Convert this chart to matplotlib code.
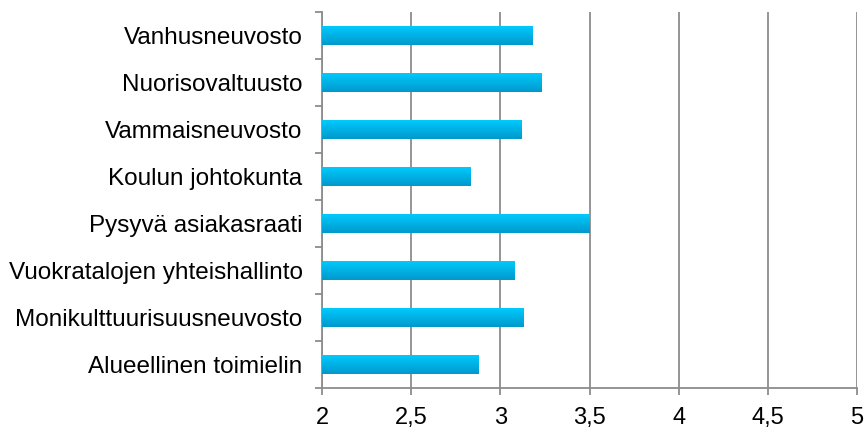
import numpy as np
import matplotlib
matplotlib.use("Agg")
import matplotlib.pyplot as plt
from matplotlib.colors import LinearSegmentedColormap

plt.rcParams['font.family'] = ['Liberation Sans', 'DejaVu Sans']

categories = [
    "Vanhusneuvosto",
    "Nuorisovaltuusto",
    "Vammaisneuvosto",
    "Koulun johtokunta",
    "Pysyvä asiakasraati",
    "Vuokratalojen yhteishallinto",
    "Monikulttuurisuusneuvosto",
    "Alueellinen toimielin",
]
values = [3.18, 3.23, 3.12, 2.83, 3.50, 3.08, 3.13, 2.88]
x_ticks = [2, 2.5, 3, 3.5, 4, 4.5, 5]
x_labels = ["2", "2,5", "3", "3,5", "4", "4,5", "5"]

fig = plt.figure(figsize=(8.65, 4.29), dpi=100)
ax = fig.add_axes([0.3723, 0.0956, 0.6185, 0.8764])

n = len(categories)
ypos = np.arange(n)[::-1]
bar_h = 0.42
x0 = 2.0

grad = LinearSegmentedColormap.from_list("bar", ["#0099cc", "#00ccff"])
gimg = np.linspace(0, 1, 64).reshape(-1, 1)

for y, v in zip(ypos, values):
    bars = ax.barh(y, v - x0, left=x0, height=bar_h, color="none", edgecolor="none", zorder=3)
    rect = bars[0]
    im = ax.imshow(gimg, cmap=grad, aspect="auto", origin="lower",
                   extent=[x0, v, y - bar_h / 2, y + bar_h / 2], zorder=3)
    im.set_clip_path(rect)

ax.set_xlim(2, 5)
ax.set_ylim(-0.5, n - 0.5)

ax.set_xticks(x_ticks)
ax.set_xticklabels(x_labels, fontsize=17)
ax.set_yticks(ypos)
ax.set_yticklabels(categories, fontsize=17.5)
ax.set_yticks(np.arange(-0.5, n, 1.0), minor=True)

ax.tick_params(axis="y", which="major", length=0, pad=14)
ax.tick_params(axis="y", which="minor", length=5, width=1.3, color="#8c8c8c", direction="out")
ax.tick_params(axis="x", which="major", length=5, width=1.3, color="#8c8c8c", pad=8.5)

ax.grid(axis="x", color="#8c8c8c", linewidth=1.3, zorder=1)
ax.set_axisbelow(True)

for s in ["top", "right"]:
    ax.spines[s].set_visible(False)
for s in ["left", "bottom"]:
    ax.spines[s].set_color("#8c8c8c")
    ax.spines[s].set_linewidth(1.3)

fig.savefig("out.png", dpi=100)
